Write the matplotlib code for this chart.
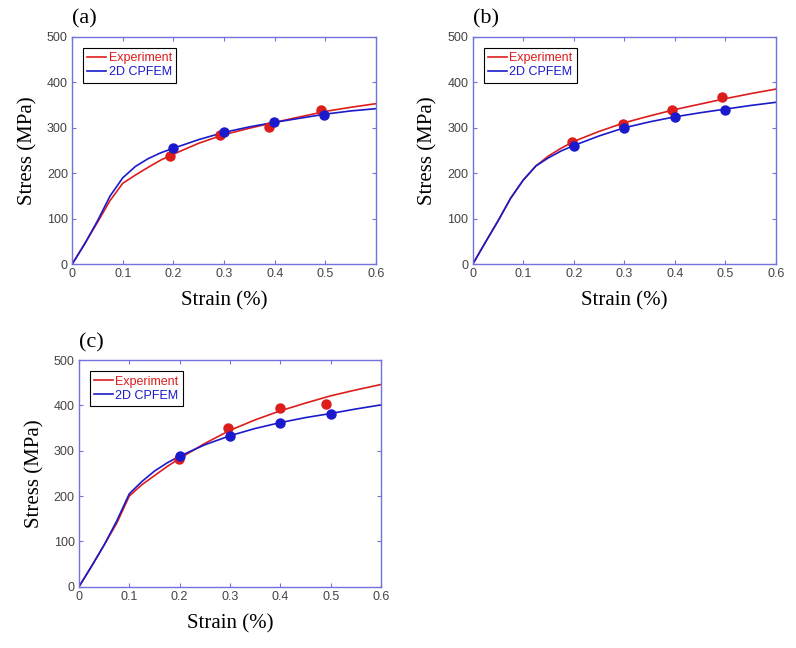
import matplotlib
matplotlib.use('Agg')
import matplotlib.pyplot as plt

# curve strain grid (%)
strain = [0, 0.025, 0.05, 0.075, 0.1, 0.125, 0.15, 0.175, 0.2, 0.25,
          0.3, 0.35, 0.4, 0.45, 0.5, 0.55, 0.6]

# (a)
exp_a = [0, 45, 92, 140, 178, 196, 213, 229, 242, 266, 285, 299, 312, 324, 336, 345, 353]
fem_a = [0, 45, 95, 150, 190, 215, 232, 245, 255, 274, 290, 302, 312, 321, 330, 337, 342]
exp_pts_a_x = [0.194, 0.291, 0.389, 0.492]
exp_pts_a_y = [239, 284, 302, 338]
fem_pts_a_x = [0.199, 0.299, 0.399, 0.497]
fem_pts_a_y = [256, 290, 313, 327]

# (b)
exp_b = [0, 48, 95, 145, 185, 216, 238, 255, 270, 292, 311, 326, 340, 352, 364, 375, 385]
fem_b = [0, 48, 95, 145, 185, 216, 234, 249, 261, 282, 300, 313, 324, 333, 341, 349, 356]
exp_pts_b_x = [0.197, 0.297, 0.394, 0.493]
exp_pts_b_y = [269, 308, 339, 368]
fem_pts_b_x = [0.2, 0.299, 0.4, 0.499]
fem_pts_b_y = [261, 300, 324, 340]

# (c)
exp_c = [0, 45, 92, 140, 200, 225, 245, 265, 283, 316, 345, 368, 388, 405, 421, 434, 446]
fem_c = [0, 45, 92, 145, 205, 232, 255, 273, 288, 313, 333, 349, 362, 373, 382, 392, 401]
exp_pts_c_x = [0.199, 0.297, 0.399, 0.491]
exp_pts_c_y = [281, 351, 395, 404]
fem_pts_c_x = [0.2, 0.3, 0.4, 0.5]
fem_pts_c_y = [288, 333, 362, 382]

red = '#dd1c1c'
blue = '#1a1acc'
frame = '#7272dd'
tick_grey = '#444444'

fig = plt.figure(figsize=(7.96, 6.48), dpi=100)

panels = [
    ('(a)', [0.0905, 0.5921, 0.382, 0.3512], exp_a, fem_a,
     exp_pts_a_x, exp_pts_a_y, fem_pts_a_x, fem_pts_a_y),
    ('(b)', [0.5938, 0.5921, 0.381, 0.3512], exp_b, fem_b,
     exp_pts_b_x, exp_pts_b_y, fem_pts_b_x, fem_pts_b_y),
    ('(c)', [0.0992, 0.0946, 0.3794, 0.3498], exp_c, fem_c,
     exp_pts_c_x, exp_pts_c_y, fem_pts_c_x, fem_pts_c_y),
]

for tag, pos, ey, fy, ex_pts, ey_pts, fx_pts, fy_pts in panels:
    ax = fig.add_axes(pos)
    ax.plot(strain, ey, color=red, lw=1.2, label='Experiment')
    ax.plot(strain, fy, color=blue, lw=1.2, label='2D CPFEM')
    ax.plot(ex_pts, ey_pts, 'o', color=red, ms=6.5)
    ax.plot(fx_pts, fy_pts, 'o', color=blue, ms=6.5)

    ax.set_xlim(0, 0.6)
    ax.set_ylim(0, 500)
    ax.set_xticks([0, 0.1, 0.2, 0.3, 0.4, 0.5, 0.6])
    ax.set_xticklabels(['0', '0.1', '0.2', '0.3', '0.4', '0.5', '0.6'])
    ax.set_yticks([0, 100, 200, 300, 400, 500])
    for sp in ax.spines.values():
        sp.set_color(frame)
        sp.set_linewidth(1.0)
    ax.tick_params(direction='in', length=3, color=frame, top=True, right=True,
                   labelsize=9, labelcolor=tick_grey, pad=3)
    for lbl in ax.get_xticklabels() + ax.get_yticklabels():
        lbl.set_family('Liberation Sans')

    ax.set_xlabel('Strain (%)', family='Liberation Serif', fontsize=15, labelpad=8)
    ax.set_ylabel('Stress (MPa)', family='Liberation Serif', fontsize=15, labelpad=7)
    ax.text(0.0, 1.035, tag, transform=ax.transAxes, family='Liberation Serif',
            fontsize=16, va='bottom', ha='left')

    leg = ax.legend(loc='upper left', bbox_to_anchor=(0.036, 0.95), borderaxespad=0,
                    fancybox=False, edgecolor='black', framealpha=1,
                    handlelength=1.5, handletextpad=0.2, borderpad=0.35,
                    labelspacing=0.15,
                    prop={'family': 'Liberation Sans', 'size': 9})
    leg.get_frame().set_linewidth(0.8)
    for txt, c in zip(leg.get_texts(), [red, blue]):
        txt.set_color(c)

fig.savefig('out.png', dpi=100)
